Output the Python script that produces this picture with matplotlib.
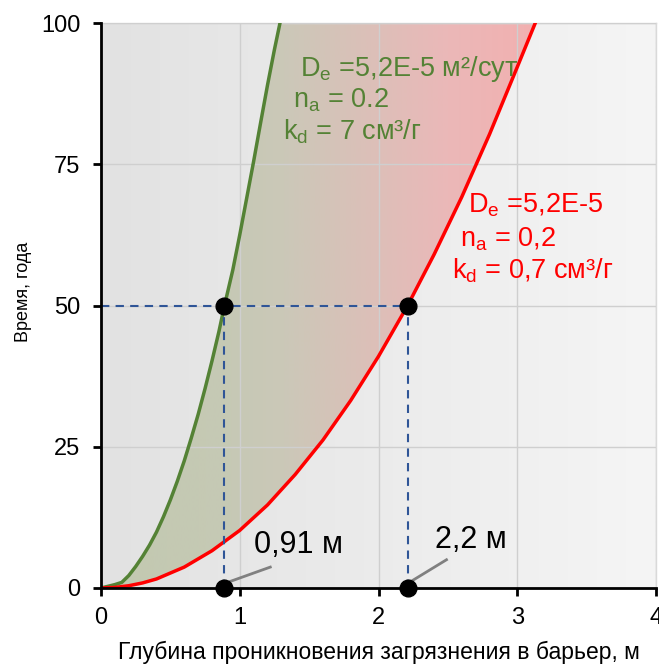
import numpy as np
import matplotlib
matplotlib.use("Agg")
import matplotlib.pyplot as plt
from matplotlib.colors import LinearSegmentedColormap
from matplotlib.patches import Polygon

plt.rcParams['font.family'] = ['Liberation Sans', 'DejaVu Sans']
plt.rcParams['mathtext.fontset'] = 'custom'
plt.rcParams['mathtext.rm'] = 'Liberation Sans'
plt.rcParams['mathtext.it'] = 'Liberation Sans:italic'

# Data
green_x = [0, 0.05, 0.1, 0.15, 0.2, 0.25, 0.3, 0.35, 0.4, 0.45, 0.5, 0.55, 0.6, 0.65, 0.7,
           0.75, 0.8, 0.85, 0.89, 0.95, 1.0, 1.05, 1.1, 1.15, 1.2, 1.25, 1.29]
green_y = [0, 0.3, 0.6, 1.0, 2.2, 3.8, 5.6, 7.6, 9.9, 12.6, 15.6, 18.9, 22.5, 26.5, 30.7,
           35.3, 40.2, 45.4, 50, 56.3, 62.5, 69.0, 75.5, 82.3, 89.0, 95.3, 100]
red_x = [0, 0.1, 0.2, 0.3, 0.4, 0.6, 0.8, 1.0, 1.2, 1.4, 1.6, 1.8, 2.0, 2.21, 2.4, 2.6,
         2.8, 3.0, 3.13]
red_y = [0, 0.1, 0.4, 0.9, 1.6, 3.7, 6.6, 10.2, 14.7, 20.1, 26.2, 33.2, 41.0, 50, 59,
         69.2, 80.3, 92.2, 100]
points_x = [0.89, 2.21]
points_y = [50, 50]
point_labels = ['0,91 м', '2,2 м']
x_ticks = [0, 1, 2, 3, 4]
y_ticks = [0, 25, 50, 75, 100]
x_label = 'Глубина проникновения загрязнения в барьер, м'
y_label = 'Время, года'
green_lines = ['D$_\\mathrm{e}$ =5,2E-5 м²/сут', 'n$_\\mathrm{a}$ = 0.2', 'k$_\\mathrm{d}$ = 7 см³/г']
red_lines = ['D$_\\mathrm{e}$ =5,2E-5', 'n$_\\mathrm{a}$ = 0,2', 'k$_\\mathrm{d}$ = 0,7 см³/г']

fig = plt.figure(figsize=(6.59, 6.64), dpi=100)
ax = fig.add_axes([101/659, 1-588/664, 555/659, 565/664])
ax.set_xlim(0, 4)
ax.set_ylim(0, 100)

# background gradient
bg = LinearSegmentedColormap.from_list('bg', ['#e2e2e2', '#f5f5f5'])
grad = np.linspace(0, 1, 256).reshape(1, -1)
ax.imshow(grad, cmap=bg, extent=[0, 4, 0, 100], aspect='auto', zorder=0, interpolation='bilinear')

# fill between curves with horizontal gradient
fill_cmap = LinearSegmentedColormap.from_list(
    'fill', [(0.0, '#c2c9b0'), (0.3, '#c6c9b5'), (0.42, '#cbc8b8'), (0.8, '#ebb8b8'), (1.0, '#f2b0b0')])
poly_pts = list(zip(green_x, green_y)) + list(zip(red_x[::-1], red_y[::-1]))
poly = Polygon(poly_pts, closed=True, facecolor='none', edgecolor='none')
ax.add_patch(poly)
im = ax.imshow(grad, cmap=fill_cmap, extent=[0, max(red_x), 0, 100], aspect='auto',
               zorder=1, interpolation='bilinear')
im.set_clip_path(poly)

ax.grid(True, color='#cfcfcf', linewidth=1, zorder=1.5)
ax.set_axisbelow(False)
ax.set_xticks(x_ticks)
ax.set_yticks(y_ticks)
ax.tick_params(axis='both', labelsize=17, length=6, width=2, direction='out')
ax.tick_params(axis='x', pad=8)
ax.tick_params(axis='y', pad=9)
for s in ['top', 'right']:
    ax.spines[s].set_color('#d9d9d9')
    ax.spines[s].set_linewidth(1)
for s in ['left', 'bottom']:
    ax.spines[s].set_color('black')
    ax.spines[s].set_linewidth(2)
    ax.spines[s].set_zorder(5)

ax.plot(green_x, green_y, color='#548235', linewidth=2.5, zorder=3)
ax.plot(red_x, red_y, color='#ff0000', linewidth=2.5, zorder=3)

# guide lines
ax.plot([0, points_x[1]], [points_y[1], points_y[1]], color='#2f5597', linestyle='--',
        linewidth=1.5, dashes=(4, 3), zorder=3.5)
for px, py in zip(points_x, points_y):
    ax.plot([px, px], [0, py], color='#2f5597', linestyle='--', linewidth=1.5,
            dashes=(4, 3), zorder=3.5)

ax.scatter(points_x, points_y, s=145, color='black', zorder=6, clip_on=False)
ax.scatter(points_x, [0, 0], s=145, color='black', zorder=6, clip_on=False)

# point annotations
label_pos = [(1.103, 6.2), (2.407, 7.1)]
leader_ends = [(1.22, 3.7), (2.49, 5.0)]
for px, lab, (lx, ly), (ex, ey) in zip(points_x, point_labels, label_pos, leader_ends):
    ax.plot([px, ex], [0.8, ey], color='#808080', linewidth=2, zorder=5.5)
    ax.text(lx, ly, lab, fontsize=22, va='baseline', ha='left', color='black', zorder=7)

# parameter texts
green_pos = [(1.434, 90.6), (1.384, 85.0), (1.312, 79.3)]
red_pos = [(2.645, 66.4), (2.587, 60.4), (2.530, 54.7)]
for line, (tx, ty) in zip(green_lines, green_pos):
    ax.text(tx, ty, line, fontsize=19.5, color='#548235', ha='left', va='baseline', zorder=7)
for line, (tx, ty) in zip(red_lines, red_pos):
    ax.text(tx, ty, line, fontsize=19.5, color='#ff0000', ha='left', va='baseline', zorder=7)

ax.text(0.501, (588 - 659) / 565, x_label, fontsize=16.5, ha='center', va='baseline',
        transform=ax.transAxes)
ax.text(-0.1405, 0.524, y_label, fontsize=13, ha='center', va='center', rotation=90,
        transform=ax.transAxes)

fig.savefig('out.png', dpi=100)
